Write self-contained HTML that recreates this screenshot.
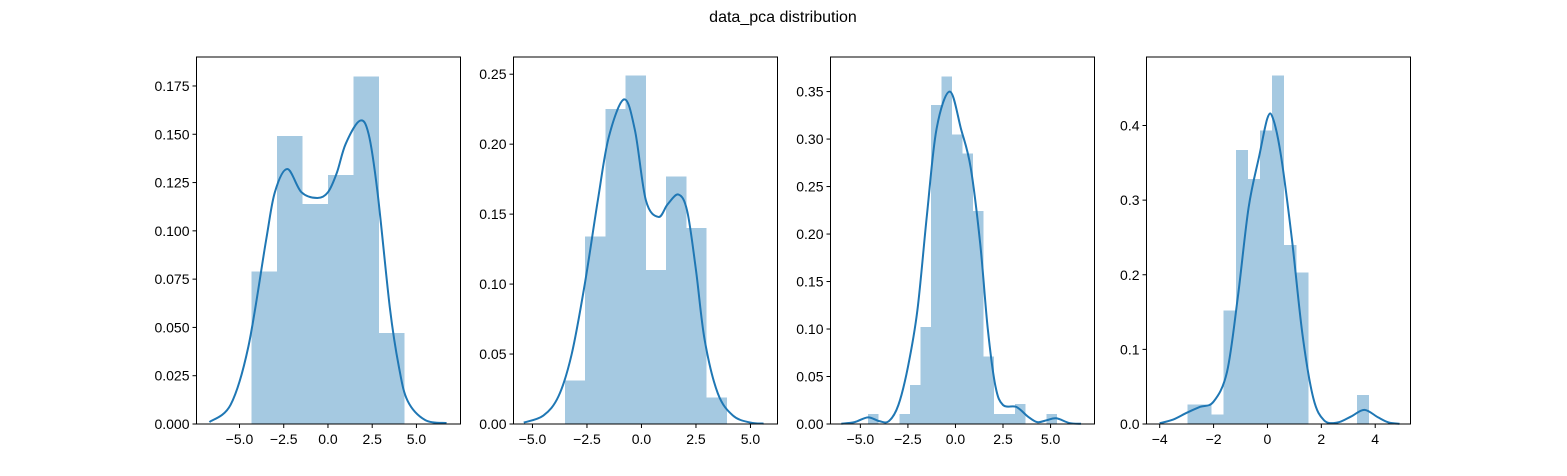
<!DOCTYPE html>
<html><head><meta charset="utf-8"><style>
body{margin:0;background:#fff;}
svg{display:block;font-family:"Liberation Sans","DejaVu Sans",sans-serif;}
</style></head><body>
<svg id="fig" width="1567" height="476">
<text x="783" y="22" text-anchor="middle" font-size="16">data_pca distribution</text>
</svg>
<script>
// ---- data ----
const p1BinStart = -4.32, p1BinWidth = 1.44;
const p1Heights = [0.079,0.149,0.114,0.129,0.180,0.047];
const p1KdeX = [-6.7,-5.5,-4.5,-3.5,-3,-2.3,-1.5,-0.6,0,0.5,1,1.8,2.3,2.8,3.5,4,4.5,5.5,6.7];
const p1KdeY = [0.001,0.01,0.04,0.095,0.12,0.132,0.12,0.117,0.12,0.13,0.145,0.157,0.15,0.12,0.06,0.03,0.012,0.002,0.0005];
const p1YTicks = [0,0.025,0.05,0.075,0.1,0.125,0.15,0.175];
const p1XTicks = [-5,-2.5,0,2.5,5];

const p2BinStart = -3.51, p2BinWidth = 0.928;
const p2Heights = [0.031,0.134,0.225,0.249,0.110,0.177,0.140,0.019];
const p2KdeX = [-5.4,-4.5,-3.8,-3.2,-2.6,-2,-1.5,-0.8,-0.3,0.2,0.78,1.2,1.7,2.1,2.5,2.9,3.5,4.2,5,5.6];
const p2KdeY = [0.001,0.006,0.02,0.05,0.10,0.16,0.205,0.232,0.21,0.16,0.148,0.157,0.164,0.152,0.11,0.06,0.022,0.006,0.001,0.0003];
const p2YTicks = [0,0.05,0.1,0.15,0.2,0.25];
const p2XTicks = [-5,-2.5,0,2.5,5];

const p3BinStart = -4.59, p3BinWidth = 0.552;
const p3Heights = [0.0104,0,0,0.0104,0.041,0.102,0.336,0.366,0.305,0.285,0.224,0.071,0.0104,0.0104,0.0208,0,0,0.0104];
const p3KdeX = [-6,-5.3,-4.6,-4,-3.5,-3,-2.5,-2,-1.5,-1,-0.3,0.3,0.8,1.3,1.7,2.1,2.5,3.2,3.8,4.3,4.8,5.3,6,6.6];
const p3KdeY = [0.0003,0.002,0.007,0.003,0.003,0.02,0.06,0.12,0.22,0.31,0.35,0.31,0.27,0.19,0.10,0.04,0.02,0.018,0.008,0.002,0.004,0.006,0.001,0.0002];
const p3YTicks = [0,0.05,0.1,0.15,0.2,0.25,0.3,0.35];
const p3XTicks = [-5,-2.5,0,2.5,5];

const p4BinStart = -2.97, p4BinWidth = 0.449;
const p4Heights = [0.026,0.026,0.013,0.152,0.367,0.328,0.393,0.467,0.240,0.203,0,0,0,0,0.039];
const p4KdeX = [-4,-3.5,-3,-2.5,-2,-1.5,-1.1,-0.7,-0.3,0,0.2,0.5,0.9,1.3,1.7,2.1,2.6,3.1,3.6,4.1,4.5,4.9];
const p4KdeY = [0.001,0.006,0.015,0.023,0.03,0.07,0.17,0.29,0.36,0.41,0.41,0.36,0.25,0.12,0.035,0.005,0.002,0.01,0.019,0.009,0.002,0.0003];
const p4YTicks = [0,0.1,0.2,0.3,0.4];
const p4XTicks = [-4,-2,0,2,4];

const NS = "http://www.w3.org/2000/svg";
const svg = document.getElementById("fig");
function mk(tag, attrs){const e=document.createElementNS(NS,tag);for(const k in attrs)e.setAttribute(k,attrs[k]);svg.appendChild(e);return e;}
function fmt(v,d){const s=Math.abs(v).toFixed(d);return (v<0?"\u2212":"")+s;}

function panel(idx,left,right,xmin,xmax,ymax,binStart,binWidth,heights,kx,ky,yt,ydec,xt,xdec){
  const top=57,bottom=424;
  const sx=v=>left+(v-xmin)/(xmax-xmin)*(right-left);
  const sy=v=>bottom-v/ymax*(bottom-top);
  heights.forEach((h,i)=>{
    if(h<=0)return;
    const x0=sx(binStart+i*binWidth),x1=sx(binStart+(i+1)*binWidth);
    const r=mk("rect",{x:x0,y:sy(h),width:x1-x0,height:bottom-sy(h),fill:"rgb(165,201,225)","shape-rendering":"crispEdges"});
    
    
  });
  const pts=kx.map((x,i)=>[sx(x),sy(ky[i])]);
  let d="M"+pts[0][0]+","+pts[0][1];
  for(let i=0;i<pts.length-1;i++){
    const p0=pts[Math.max(0,i-1)],p1=pts[i],p2=pts[i+1],p3=pts[Math.min(pts.length-1,i+2)];
    const c1=[p1[0]+(p2[0]-p0[0])/6,p1[1]+(p2[1]-p0[1])/6];
    const c2=[p2[0]-(p3[0]-p1[0])/6,p2[1]-(p3[1]-p1[1])/6];
    d+=" C"+c1+" "+c2+" "+p2;
  }
  const line=mk("path",{d:d,fill:"none",stroke:"#1f77b4","stroke-width":2});
  
  
  const frame=mk("rect",{x:left,y:top,width:right-left,height:bottom-top,fill:"none",stroke:"#000","stroke-width":1});
  
  
  yt.forEach(v=>{
    const y=sy(v);
    mk("line",{x1:left-4,x2:left,y1:y,y2:y,stroke:"#000","stroke-width":1});
    const t=mk("text",{x:left-7,y:y+5,"text-anchor":"end","font-size":14});
    t.textContent=fmt(v,ydec);
    
    
  });
  xt.forEach(v=>{
    const x=sx(v);
    mk("line",{x1:x,x2:x,y1:bottom,y2:bottom+4,stroke:"#000","stroke-width":1});
    const t=mk("text",{x:x,y:bottom+20,"text-anchor":"middle","font-size":14});
    t.textContent=fmt(v,xdec);
    
    
  });
}
panel(1,196.5,460.5,-7.43,7.49,0.190,p1BinStart,p1BinWidth,p1Heights,p1KdeX,p1KdeY,p1YTicks,3,p1XTicks,1);
panel(2,513.5,777.5,-5.87,6.24,0.2623,p2BinStart,p2BinWidth,p2Heights,p2KdeX,p2KdeY,p2YTicks,2,p2XTicks,1);
panel(3,830.5,1094.5,-6.57,7.31,0.3864,p3BinStart,p3BinWidth,p3Heights,p3KdeX,p3KdeY,p3YTicks,2,p3XTicks,1);
panel(4,1146.5,1410.5,-4.49,5.31,0.4918,p4BinStart,p4BinWidth,p4Heights,p4KdeX,p4KdeY,p4YTicks,1,p4XTicks,0);
</script>
</body></html>
